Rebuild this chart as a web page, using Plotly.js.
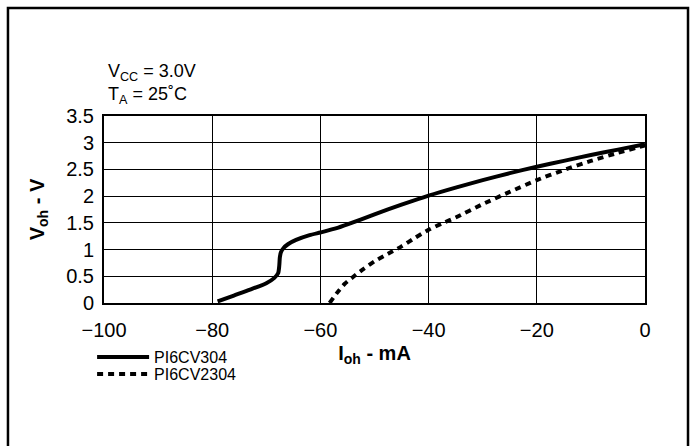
<!DOCTYPE html>
<html>
<head>
<meta charset="utf-8">
<script src="https://cdn.plot.ly/plotly-3.0.1.min.js"></script>
<style>
html,body{margin:0;padding:0;background:#fff;}
#chart{width:694px;height:446px;}
</style>
</head>
<body>
<div id="chart"></div>
<script>
// Series PI6CV304 (solid)
const x304 = [-79, -76, -73, -70, -68.5, -67.8, -67.6, -67.5, -67.3, -66.8, -66, -64.5, -62, -60, -57, -55, -50, -45, -40, -35, -30, -25, -20, -15, -10, -5, 0];
const y304 = [0.03, 0.14, 0.25, 0.37, 0.47, 0.56, 0.7, 0.85, 0.95, 1.03, 1.1, 1.18, 1.27, 1.32, 1.4, 1.47, 1.66, 1.84, 2.01, 2.16, 2.3, 2.43, 2.55, 2.66, 2.77, 2.87, 2.97];
// Series PI6CV2304 (dashed)
const x2304 = [-58.3, -57, -55.5, -53.8, -52, -50, -47.5, -45, -42.5, -40, -37.5, -35, -30, -25, -20, -15, -10, -5, 0];
const y2304 = [0.0, 0.18, 0.36, 0.5, 0.64, 0.78, 0.92, 1.06, 1.22, 1.37, 1.49, 1.6, 1.85, 2.08, 2.3, 2.49, 2.66, 2.81, 2.95];
const seriesNames = ["PI6CV304", "PI6CV2304"];
const xTicks = [-100, -80, -60, -40, -20, 0];
const yTicks = [0, 0.5, 1, 1.5, 2, 2.5, 3, 3.5];
const yTickText = ["0", "0.5", "1", "1.5", "2", "2.5", "3", "3.5"];

const FONT = "Liberation Sans, Arial, Helvetica, sans-serif";

const traces = [
  {x: x304, y: y304, name: seriesNames[0], mode: "lines", legend: "legend",
   line: {color: "#000", width: 4, shape: "spline", smoothing: 0.6}},
  {x: x2304, y: y2304, name: seriesNames[1], mode: "lines", legend: "legend2",
   line: {color: "#000", width: 4, dash: "6px,5px", shape: "spline", smoothing: 0.6}}
];

const legendBase = {xanchor: "left", yanchor: "top",
  font: {family: FONT, size: 16, color: "#000"},
  bgcolor: "rgba(0,0,0,0)", tracegroupgap: 0, itemwidth: 52};

const layout = {
  width: 694, height: 446,
  margin: {l: 104, r: 49, t: 116, b: 143},
  paper_bgcolor: "#fff", plot_bgcolor: "#fff",
  font: {family: FONT, color: "#000", size: 20},
  showlegend: true,
  legend: Object.assign({}, legendBase, {x: -0.022, y: -0.198}),
  legend2: Object.assign({}, legendBase, {x: -0.022, y: -0.289}),
  xaxis: {range: [-100, 0], tickvals: xTicks, showgrid: true, gridcolor: "#000", gridwidth: 1,
          showline: true, linecolor: "#000", linewidth: 2, mirror: true, zeroline: false,
          ticks: "", ticklabelstandoff: 8, tickfont: {family: FONT, size: 20},
          title: {text: "<b>I<sub>oh</sub> - mA</b>", font: {family: FONT, size: 20}, standoff: 6}},
  yaxis: {range: [0, 3.5], tickvals: yTicks, ticktext: yTickText, showgrid: true, gridcolor: "#000", gridwidth: 1,
          showline: true, linecolor: "#000", linewidth: 2, mirror: true, zeroline: false,
          ticks: "", ticklabelstandoff: 4, tickfont: {family: FONT, size: 20},
          title: {text: "<b>V<sub>oh</sub> - V</b>", font: {family: FONT, size: 20}, standoff: 16}},
  annotations: [
    {text: "V<sub>CC</sub> = 3.0V", xref: "paper", yref: "paper", x: 0.003, y: 1.235,
     xanchor: "left", yanchor: "middle", showarrow: false, font: {family: FONT, size: 18}},
    {text: "T<sub>A</sub> = 25˚C", xref: "paper", yref: "paper", x: 0.003, y: 1.11,
     xanchor: "left", yanchor: "middle", showarrow: false, font: {family: FONT, size: 18}}
  ],
  shapes: [
    {type: "rect", xref: "paper", yref: "paper", x0: -0.1775, x1: 1.0795, y0: -0.8, y1: 1.578,
     line: {color: "#000", width: 2.5}, fillcolor: "rgba(0,0,0,0)", layer: "above"}
  ]
};

Plotly.newPlot("chart", traces, layout, {displayModeBar: false, staticPlot: true});
</script>
</body>
</html>
